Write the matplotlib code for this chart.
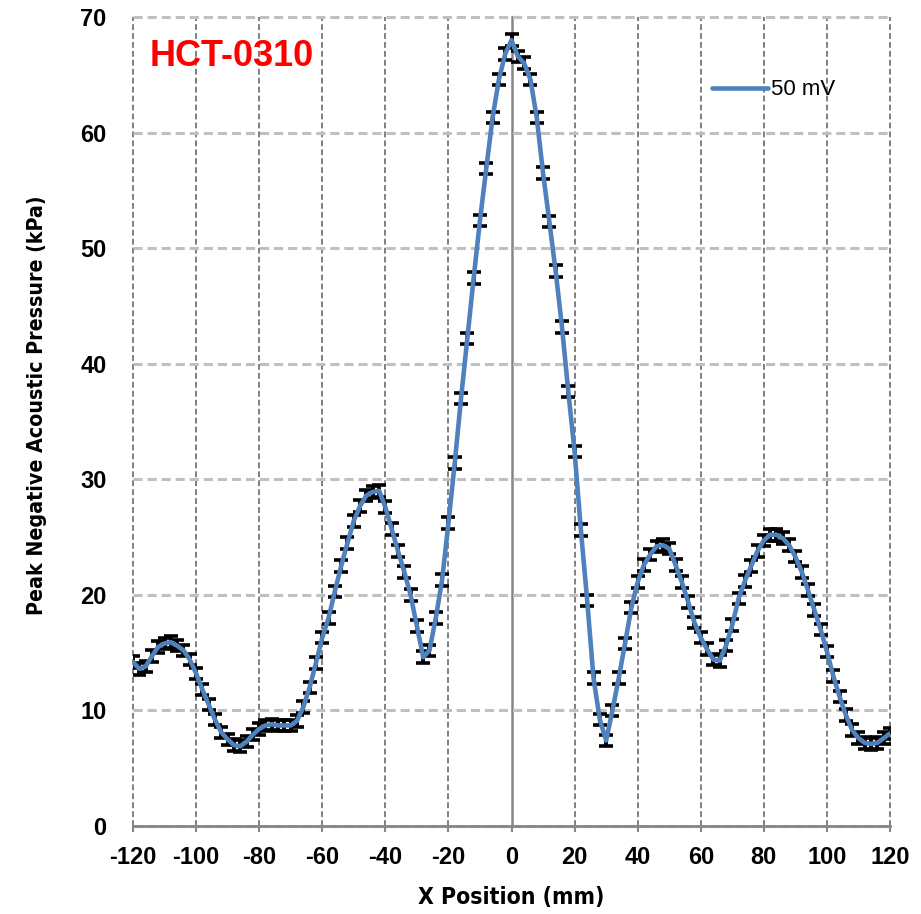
import numpy as np
import matplotlib
matplotlib.use('Agg')
import matplotlib.pyplot as plt
from matplotlib import font_manager

# =============================================================================
# DATOS
# =============================================================================
x_mm = list(range(-120, 121, 2))

p_kpa = [
    14.2, 13.6, 13.8, 14.7, 15.5, 15.8, 15.9, 15.6, 15.2, 14.4,   # -120 .. -102
    13.2, 11.8, 10.5, 9.2, 8.1, 7.5, 7.0, 6.9, 7.3, 7.9,          # -100 .. -82
    8.4, 8.7, 8.8, 8.7, 8.7, 8.7, 9.1, 10.3, 12.0, 14.1,          # -80 .. -62
    16.3, 18.0, 20.3, 22.5, 24.5, 26.4, 27.7, 28.6, 28.9, 29.0,   # -60 .. -42
    27.6, 25.7, 23.8, 22.0, 20.0, 17.3, 14.6, 15.2, 18.0, 21.3,   # -40 .. -22
    26.2, 31.4, 37.0, 42.2, 47.4, 52.4, 56.9, 61.3, 64.6, 66.8,   # -20 .. -2
    68.0,                                                         # 0
    66.6, 66.0, 64.6, 61.3, 56.5, 52.3, 48.0, 43.2, 37.6, 32.4,   # 2 .. 20
    25.6, 19.5, 12.8, 9.2, 7.4, 10.0, 12.8, 15.8, 18.9, 21.1,     # 22 .. 40
    22.6, 23.5, 24.2, 24.3, 24.0, 22.6, 21.1, 19.4, 17.6, 16.3,   # 42 .. 60
    15.3, 14.4, 14.3, 15.6, 17.4, 19.7, 21.2, 22.5, 23.8, 24.7,   # 62 .. 80
    25.2, 25.2, 24.9, 24.3, 23.3, 22.0, 20.4, 18.7, 17.0, 15.1,   # 82 .. 100
    13.0, 11.2, 9.6, 8.3, 7.6, 7.2, 7.1, 7.2, 7.6, 8.0,           # 102 .. 120
]
err_kpa = 0.5

x_ticks = list(range(-120, 121, 20))
y_ticks = list(range(0, 71, 10))
serie_label = '50 mV'
titulo = 'HCT-0310'

# =============================================================================
# ESTILO
# =============================================================================
names = {f.name for f in font_manager.fontManager.ttflist}
BASE = 'Liberation Sans' if 'Liberation Sans' in names else 'DejaVu Sans'
plt.rcParams['axes.unicode_minus'] = False

AXIS_GRAY = '#868686'
BLUE = '#4F81BD'

fig = plt.figure(figsize=(9.21, 9.14), dpi=100)
ax = fig.add_axes([133/921, 88/914, 757/921, 809/914])

ax.set_xlim(-120, 120)
ax.set_ylim(0, 70)

# barras de error + línea
ax.errorbar(x_mm, p_kpa, yerr=err_kpa, fmt='none', ecolor='black',
            elinewidth=2.8, capsize=4.8, capthick=2.6, zorder=3)
ax.plot(x_mm, p_kpa, color=BLUE, linewidth=3.3, zorder=4,
        solid_capstyle='round', label=serie_label)

# rejilla
ax.set_xticks(x_ticks)
ax.set_yticks(y_ticks)
ax.xaxis.grid(True, color='#7f7f7f', linewidth=1.4, linestyle=(0, (3, 1.6)))
ax.yaxis.grid(True, color='#c0c0c0', linewidth=2.2, linestyle=(0, (3, 1.6)))
ax.set_axisbelow(True)
for gl in ax.get_xgridlines() + ax.get_ygridlines():
    gl.set_clip_on(False)
ax.get_xgridlines()[x_ticks.index(0)].set_visible(False)

for s in ['top', 'right', 'left']:
    ax.spines[s].set_visible(False)
ax.spines['bottom'].set_color(AXIS_GRAY)
ax.spines['bottom'].set_linewidth(2.0)
ax.spines['bottom'].set_zorder(2)

ax.tick_params(axis='x', direction='out', length=4.5, width=1.5, color=AXIS_GRAY,
               pad=10, labelsize=17, labelcolor='black')
ax.tick_params(axis='y', length=0, pad=19, labelsize=17, labelcolor='black')
for lab in ax.get_xticklabels() + ax.get_yticklabels():
    lab.set_fontfamily(BASE)
    lab.set_fontweight('bold')

# eje vertical en x = 0
yax = ax.secondary_yaxis(0.5)
for s in yax.spines.values():
    s.set_color(AXIS_GRAY)
    s.set_linewidth(1.8)
yax.set_yticks(y_ticks)
yax.set_yticklabels([])
yax.tick_params(direction='out', length=4.5, width=1.5, color=AXIS_GRAY,
                labelleft=False, labelright=False)

ax.set_xlabel('X Position (mm)', fontsize=16.5, fontweight='bold',
              family='DejaVu Sans', fontstretch='condensed', labelpad=12)
ax.set_ylabel('Peak Negative Acoustic Pressure (kPa)', fontsize=15.3,
              fontweight='bold', family='DejaVu Sans', fontstretch='condensed',
              labelpad=24)
ax.yaxis.label.set_y(0.52)

ax.text(0.0225, 0.951, titulo, transform=ax.transAxes, color='#FF0000',
        fontsize=26, fontweight='bold', family=BASE, va='center', ha='left')

ax.legend(loc='center left', bbox_to_anchor=(0.765, 0.91), frameon=False,
          borderpad=0, borderaxespad=0, handlelength=2.5, handletextpad=0.15,
          prop={'family': BASE, 'size': 16})

plt.savefig('out.png', dpi=100)
